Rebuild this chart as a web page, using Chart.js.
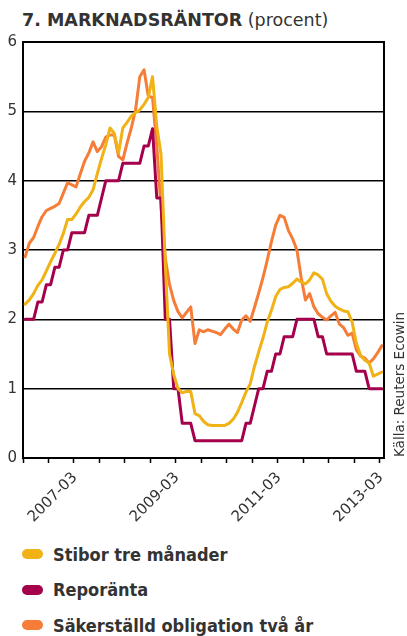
<!DOCTYPE html>
<html>
<head>
<meta charset="utf-8">
<script src="https://cdn.jsdelivr.net/npm/chart.js@4/dist/chart.umd.min.js"></script>
<style>
  html, body { margin: 0; padding: 0; background: #fff; }
  #wrap { position: relative; width: 407px; height: 636px; overflow: hidden; background: #fff; }
  #title { position: absolute; left: 22px; top: 9px; font-family: "DejaVu Sans", sans-serif; font-size: 17.5px; line-height: 22px; color: #333; white-space: nowrap; }
  #title .main { font-weight: bold; }
  #chart { position: absolute; left: 0; top: 0; }
  #source { position: absolute; left: 392px; top: 457px; transform-origin: 0 0; transform: rotate(-90deg); font-family: "DejaVu Sans", sans-serif; font-size: 13.5px; line-height: 15px; color: #333; white-space: nowrap; }
  .legend-item { position: absolute; left: 22px; height: 20px; display: flex; align-items: center; font-family: "DejaVu Sans Condensed", "DejaVu Sans", sans-serif; font-weight: bold; font-size: 18px; color: #333; white-space: nowrap; }
  .legend-swatch { width: 21px; height: 10px; border-radius: 5px; margin-right: 10px; }
</style>
</head>
<body>
<div id="wrap">
  <div id="title"><span class="main">7. MARKNADSRÄNTOR</span> (procent)</div>
  <canvas id="chart" width="407" height="530"></canvas>
  <div id="source">Källa: Reuters Ecowin</div>
  <div id="legend"></div>
</div>
<script>
// Monthly observations, March 2006 – March 2013 (month-end values, per cent)
const startYear = 2006;
const startMonth = 3;
const monthCount = 85;

const months = [];
for (let i = 0; i < monthCount; i++) {
  const y = startYear + Math.floor((startMonth - 1 + i) / 12);
  const m = ((startMonth - 1 + i) % 12) + 1;
  months.push(y + '-' + String(m).padStart(2, '0'));
}

// Labelled ticks on the time axis
const tickLabels = ['2007-03', '2009-03', '2011-03', '2013-03'];
const yTicks = [0, 1, 2, 3, 4, 5, 6];

const seriesNames = ['Stibor tre månader', 'Reporänta', 'Säkerställd obligation två år'];
const seriesColors = ['#F0B214', '#A5004B', '#F57D37'];

const stibor = [
  2.22, 2.28, 2.37, 2.49, 2.57, 2.70, 2.83, 2.95, 3.08, 3.24,
  3.44, 3.44, 3.52, 3.62, 3.70, 3.76, 3.87, 4.10, 4.32, 4.52,
  4.76, 4.68, 4.40, 4.76, 4.84, 4.93, 4.98, 5.02, 5.10, 5.20,
  5.50, 4.78, 4.38, 2.80, 1.50, 1.20, 1.00, 0.94, 0.96, 0.96,
  0.64, 0.61, 0.53, 0.48, 0.47, 0.47, 0.47, 0.47, 0.50, 0.56,
  0.66, 0.80, 0.95, 1.07, 1.32, 1.53, 1.73, 1.96, 2.13, 2.33,
  2.43, 2.46, 2.47, 2.52, 2.58, 2.54, 2.51, 2.57, 2.67, 2.64,
  2.58, 2.37, 2.26, 2.19, 2.15, 2.12, 2.11, 1.96, 1.65, 1.48,
  1.41, 1.37, 1.18, 1.21, 1.24
];

const repo = [
  2.00, 2.00, 2.00, 2.25, 2.25, 2.50, 2.50, 2.75, 2.75, 3.00,
  3.00, 3.25, 3.25, 3.25, 3.25, 3.50, 3.50, 3.50, 3.75, 4.00,
  4.00, 4.00, 4.00, 4.25, 4.25, 4.25, 4.25, 4.25, 4.50, 4.50,
  4.75, 3.75, 3.75, 2.00, 2.00, 1.00, 1.00, 0.50, 0.50, 0.50,
  0.25, 0.25, 0.25, 0.25, 0.25, 0.25, 0.25, 0.25, 0.25, 0.25,
  0.25, 0.25, 0.50, 0.50, 0.75, 1.00, 1.00, 1.25, 1.25, 1.50,
  1.50, 1.75, 1.75, 1.75, 2.00, 2.00, 2.00, 2.00, 2.00, 1.75,
  1.75, 1.50, 1.50, 1.50, 1.50, 1.50, 1.50, 1.50, 1.25, 1.25,
  1.25, 1.00, 1.00, 1.00, 1.00
];

const coveredBond = [
  2.90, 3.10, 3.18, 3.34, 3.48, 3.57, 3.60, 3.63, 3.67, 3.82,
  3.97, 3.94, 3.91, 4.10, 4.28, 4.40, 4.56, 4.42, 4.49, 4.63,
  4.66, 4.66, 4.35, 4.30, 4.54, 4.76, 5.02, 5.50, 5.60, 5.22,
  5.20, 4.50, 3.60, 2.88, 2.50, 2.27, 2.11, 2.02, 2.10, 2.18,
  1.65, 1.85, 1.82, 1.85, 1.83, 1.81, 1.78, 1.86, 1.93, 1.86,
  1.81, 1.99, 2.05, 1.97, 2.17, 2.38, 2.60, 2.85, 3.12, 3.36,
  3.50, 3.47, 3.28, 3.16, 3.00, 2.60, 2.28, 2.37, 2.18, 2.08,
  2.03, 1.99, 2.05, 2.10, 1.93, 1.88, 1.77, 1.80, 1.56, 1.47,
  1.44, 1.37, 1.43, 1.52, 1.62
];

const seriesValues = [stibor, repo, coveredBond];

// Black frame closing the top and right sides of the plot area
const framePlugin = {
  id: 'frame',
  afterDatasetsDraw(chart) {
    const { ctx, chartArea } = chart;
    ctx.save();
    ctx.strokeStyle = '#000';
    ctx.lineWidth = 2;
    ctx.beginPath();
    ctx.moveTo(chartArea.left, chartArea.top);
    ctx.lineTo(chartArea.right, chartArea.top);
    ctx.lineTo(chartArea.right, chartArea.bottom);
    ctx.stroke();
    ctx.restore();
  }
};

const chart = new Chart(document.getElementById('chart'), {
  type: 'line',
  data: {
    labels: months,
    datasets: seriesValues.map((vals, i) => ({
      label: seriesNames[i],
      data: vals,
      borderColor: seriesColors[i],
      backgroundColor: seriesColors[i],
      borderWidth: 3,
      pointRadius: 0,
      tension: 0,
      borderJoinStyle: 'round',
      borderCapStyle: 'round'
    }))
  },
  options: {
    responsive: false,
    animation: false,
    devicePixelRatio: 1,
    layout: { padding: { top: 42, right: 23, left: 0, bottom: 0 } },
    plugins: {
      legend: { display: false },
      tooltip: { enabled: false },
      title: { display: false }
    },
    scales: {
      x: {
        type: 'category',
        offset: true,
        afterFit(scale) { scale.height = 72; },
        border: { display: true, color: '#000', width: 2 },
        grid: {
          offset: true,
          drawOnChartArea: false,
          drawTicks: true,
          tickLength: 5,
          tickWidth: 1.5,
          tickColor: (ctx) => (ctx.type === 'tick' && ctx.index % 6 === 0) ? '#000' : 'rgba(0,0,0,0)'
        },
        ticks: {
          autoSkip: false,
          minRotation: 45,
          maxRotation: 45,
          labelOffset: -1,
          padding: 6,
          color: '#333',
          font: { family: 'DejaVu Sans', size: 15 },
          callback(value) {
            const lbl = this.getLabelForValue(value);
            return tickLabels.includes(lbl) ? lbl : '';
          }
        }
      },
      y: {
        min: yTicks[0],
        max: yTicks[yTicks.length - 1],
        afterFit(scale) { scale.width = 23; },
        border: { display: true, color: '#000', width: 2 },
        grid: { color: '#000', lineWidth: 1.5, drawTicks: false },
        ticks: {
          stepSize: 1,
          padding: 6,
          color: '#333',
          font: { family: 'DejaVu Sans', size: 15 }
        }
      }
    }
  },
  plugins: [framePlugin]
});

// Legend built from the chart's own datasets
const legend = document.getElementById('legend');
chart.data.datasets.forEach((ds, i) => {
  const item = document.createElement('div');
  item.className = 'legend-item';
  item.style.top = (544 + i * 35.5) + 'px';
  const sw = document.createElement('span');
  sw.className = 'legend-swatch';
  sw.style.background = ds.borderColor;
  const tx = document.createElement('span');
  tx.textContent = ds.label;
  item.appendChild(sw);
  item.appendChild(tx);
  legend.appendChild(item);
});
</script>
</body>
</html>
